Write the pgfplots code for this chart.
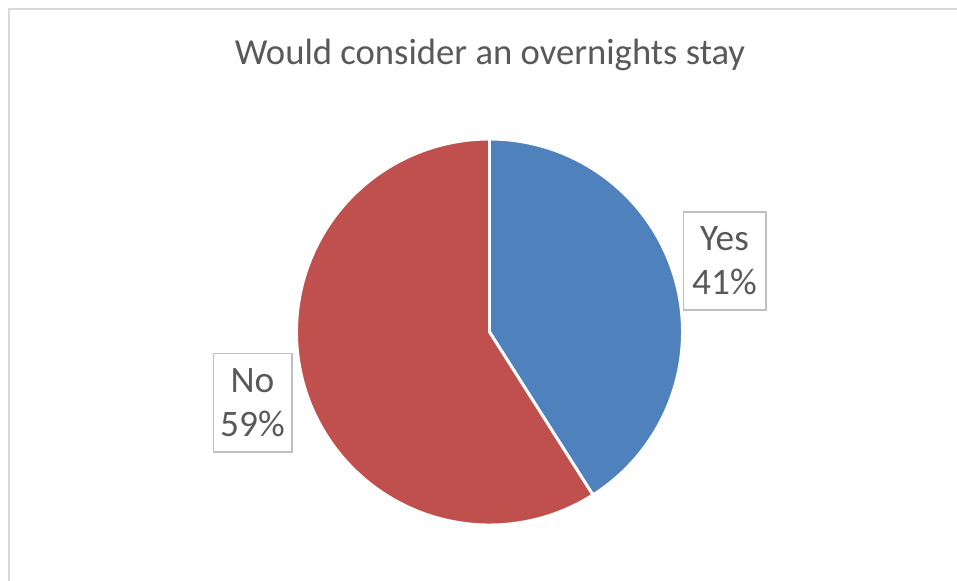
\documentclass[border=0pt]{standalone}
\usepackage{pgfplots}
\pgfplotsset{compat=1.18}
\usepackage{fontspec}
\setmainfont{Carlito}
\definecolor{pieblue}{HTML}{4F81BD}
\definecolor{piered}{HTML}{C0504D}
\definecolor{txtgray}{HTML}{595959}
\definecolor{boxgray}{HTML}{BFBFBF}
\definecolor{framegray}{HTML}{D9D9D9}
% Data: share of answers (percent)
\def\yesval{41}
\def\noval{59}
\begin{document}
\begin{tikzpicture}
\begin{axis}[
  at={(0,0)}, anchor=south west,
  scale only axis, width=717.75pt, height=435.75pt,
  xmin=0, xmax=957, ymin=0, ymax=581, y dir=reverse,
  hide axis, clip=false,
]
\pgfmathsetmacro{\aend}{90-3.6*\yesval}
\pgfmathsetmacro{\bend}{\aend-3.6*\noval}
% frame
\draw[framegray, line width=1.2pt] (axis cs:9,581) -- (axis cs:9,9) -- (axis cs:957,9);
% Yes slice
\addplot[fill=pieblue, draw=white, line width=2.2pt, line join=round, domain=90:\aend, samples=120]
  ({489.5+193*cos(x)}, {332-193*sin(x)}) -- (axis cs:489.5,332) -- cycle;
% No slice
\addplot[fill=piered, draw=white, line width=2.2pt, line join=round, domain=\aend:\bend, samples=160]
  ({489.5+193*cos(x)}, {332-193*sin(x)}) -- (axis cs:489.5,332) -- cycle;
% title
\node[anchor=base, text=txtgray, font=\fontsize{27.5}{33}\selectfont, inner sep=0pt] at (axis cs:490,65) {Would consider an overnights stay};
% labels
\node[draw=boxgray, line width=1pt, minimum width=62pt, minimum height=73.5pt, inner sep=0pt, align=center, text=txtgray, font=\fontsize{28}{33}\selectfont] at (axis cs:724.5,261) {Yes\\41\%};
\node[draw=boxgray, line width=1pt, minimum width=59pt, minimum height=74pt, inner sep=0pt, align=center, text=txtgray, font=\fontsize{28}{33}\selectfont] at (axis cs:252.5,402.5) {No\\59\%};
\end{axis}
\pgfresetboundingbox
\path[use as bounding box] (0,0) rectangle (717.75pt,435.75pt);
\end{tikzpicture}
\end{document}
